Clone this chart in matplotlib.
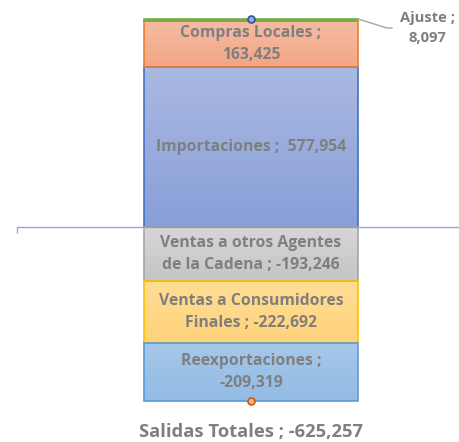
import matplotlib
matplotlib.use("Agg")
import matplotlib.pyplot as plt
import numpy as np
from matplotlib.colors import LinearSegmentedColormap

# ---- data ----
pos_labels = ["Importaciones", "Compras Locales", "Ajuste"]
pos_values = [577954, 163425, 8097]
neg_labels = ["Ventas a otros Agentes\nde la Cadena", "Ventas a Consumidores\nFinales", "Reexportaciones"]
neg_values = [-193246, -222692, -209319]
total_in = sum(pos_values)
total_out = sum(neg_values)
total_out_label = "Salidas Totales"

pos_fill = [("#AAB9E1", "#889FD8"), ("#F5BCA4", "#F3A584"), ("#8CC26A", "#70AD47")]
pos_edge = ["#4472C4", "#ED7D31", "#70AD47"]
neg_fill = [("#D6D6D6", "#C5C5C5"), ("#FFDE96", "#FFD27A"), ("#A6C8EA", "#93BBE4")]
neg_edge = ["#A5A5A5", "#FFC000", "#5B9BD5"]
pos_text = ["{} ;  {:,}", "{} ;\n{:,}", None]
neg_text = ["{} ; {:,}", "{} ; {:,}", "{} ;\n{:,}"]

W, H = 459, 442
fig = plt.figure(figsize=(W / 100, H / 100), dpi=100)
ax = fig.add_axes([17 / W, 0, 1 - 17 / W, 1])
ax.set_xlim(-(251 - 17) / 214, (459 - 251) / 214)
ax.set_ylim(-771000, 817700)
for s in ["top", "right", "left"]:
    ax.spines[s].set_visible(False)
ax.spines["bottom"].set_position(("data", 0))
ax.spines["bottom"].set_color("#8FAADC")
ax.spines["bottom"].set_linewidth(1.0)
ax.set_yticks([])
ax.set_xticks([ax.get_xlim()[0]])
ax.set_xticklabels([""])
ax.tick_params(axis="x", direction="out", length=4, color="#8FAADC", width=1.0)

txt_color = "#7F7F7F"
LS = 1.5
font = dict(family="Open Sans", weight="bold", color=txt_color, fontsize=11.3)

px = 1.0 / 214            # one pixel in x data units
py = 1.0 / 0.0002782      # one pixel in y data units


def grad_bar(bottom, height, cols, edge, zorder):
    bars = ax.bar([0], [height], bottom=[bottom], width=1.0, color="none",
                  edgecolor=edge, linewidth=1.2, zorder=zorder + 1)
    patch = bars.patches[0]
    cmap = LinearSegmentedColormap.from_list("g", [cols[1], cols[0]])
    lo, hi = min(bottom, bottom + height), max(bottom, bottom + height)
    im = ax.imshow(np.linspace(0, 1, 100).reshape(-1, 1), cmap=cmap,
                   extent=(-0.5, 0.5, lo, hi), origin="lower", aspect="auto",
                   zorder=zorder)
    im.set_clip_path(patch)
    return patch


b = 0
for lab, v, fc, ec, tf in zip(pos_labels, pos_values, pos_fill, pos_edge, pos_text):
    grad_bar(b, v, fc, ec, 2)
    if tf:
        ax.text(0, b + v / 2, tf.format(lab, v), ha="center", va="center",
                linespacing=LS, zorder=5, **font)
    b += v

# Ajuste label with leader line
lx = [0.5, 0.5 + 29 * px, 0.5 + 34 * px]
ly = [total_in, total_in - 9 * py, total_in - 9 * py]
ax.plot(lx, ly, color="#A6A6A6", lw=1.0, zorder=4, clip_on=False)
ajuste_font = dict(font, fontsize=10.6)
ax.text(0.5 + 69 * px, total_in - 9 * py, "{} ;\n{:,}".format(pos_labels[2], pos_values[2]),
        ha="center", va="center", multialignment="center", linespacing=1.6,
        zorder=5, **ajuste_font)

b = 0
for lab, v, fc, ec, tf in zip(neg_labels, neg_values, neg_fill, neg_edge, neg_text):
    grad_bar(b, v, fc, ec, 2)
    ax.text(0, b + v / 2, tf.format(lab, v), ha="center", va="center",
            linespacing=LS, zorder=5, **font)
    b += v

ax.plot([0], [total_in], "o", ms=5, mfc="#8FAADC", mec="#2F5597", mew=1.2, zorder=6)
ax.plot([0], [total_out], "o", ms=5, mfc="#F4B183", mec="#C55A11", mew=1.2, zorder=6)
ax.text(0, total_out - 31 * py, "{} ; {:,}".format(total_out_label, total_out),
        ha="center", va="center", family="Open Sans", weight="bold",
        color=txt_color, fontsize=13.2)

fig.savefig("out.png", dpi=100)
